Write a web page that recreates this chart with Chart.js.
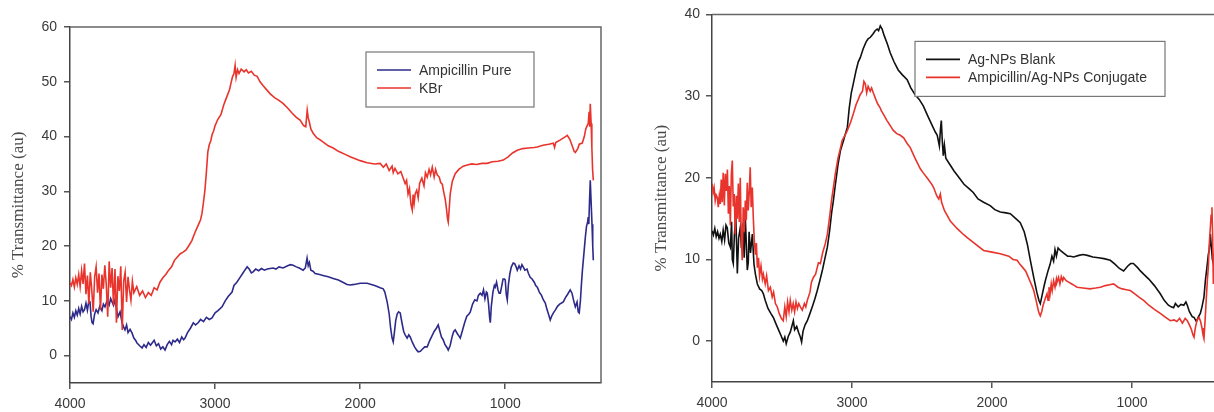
<!DOCTYPE html>
<html>
<head>
<meta charset="utf-8">
<script src="https://cdn.jsdelivr.net/npm/chart.js@4.4.1/dist/chart.umd.min.js"></script>
<style>
html, body { margin: 0; padding: 0; background: #fff; overflow: hidden; width: 1214px; height: 412px; }
.panel { position: absolute; top: 0; }
</style>
</head>
<body>
<div class="panel" style="left:0"><canvas id="leftChart" width="612" height="412"></canvas></div>
<div class="panel" style="left:620px"><canvas id="rightChart" width="620" height="412"></canvas></div>
<script>
// FTIR spectra, [wavenumber cm-1, % transmittance]

const ampicillinPure = [
  [4000,7.1],[3990,6.6],[3980,7.8],[3970,7.0],[3960,8.2],[3950,7.4],[3940,8.6],[3930,7.6],[3920,9.0],[3910,8.0],
  [3900,8.4],[3890,9.6],[3880,8.3],[3870,10.0],[3862,9.8],[3855,7.2],[3848,6.0],[3841,5.8],[3830,7.6],[3820,8.4],
  [3807,7.8],[3795,9.0],[3780,8.2],[3770,9.4],[3759,8.9],[3745,10.0],[3730,9.2],[3720,10.4],[3710,9.8],[3700,9.2],
  [3690,10.2],[3680,8.6],[3669,7.1],[3655,8.0],[3641,6.0],[3630,5.2],[3621,4.7],[3610,5.6],[3600,4.2],[3586,4.8],
  [3572,4.1],[3560,3.2],[3548,2.8],[3538,2.3],[3520,1.8],[3503,1.4],[3490,2.0],[3475,1.5],[3460,2.4],[3445,1.9],
  [3434,2.3],[3420,2.8],[3405,1.8],[3390,2.2],[3375,1.2],[3360,1.6],[3345,1.0],[3330,2.0],[3315,2.6],[3300,2.0],
  [3290,2.8],[3276,2.5],[3260,3.0],[3245,2.4],[3230,3.4],[3217,2.9],[3207,3.2],[3190,4.2],[3170,5.0],[3150,6.0],
  [3135,5.6],[3117,6.0],[3100,6.6],[3080,6.2],[3060,7.0],[3040,6.6],[3021,6.9],[3000,7.8],[2980,8.2],[2952,8.9],
  [2930,10.0],[2910,10.8],[2883,11.6],[2870,12.8],[2850,13.4],[2830,14.2],[2810,15.0],[2795,15.6],[2779,16.2],[2765,15.8],
  [2750,15.1],[2738,15.3],[2720,15.8],[2700,15.5],[2680,15.9],[2660,15.6],[2640,15.8],[2620,15.9],[2600,16.0],[2580,15.8],
  [2560,16.2],[2531,16.0],[2500,16.4],[2480,16.6],[2462,16.5],[2440,16.2],[2420,16.0],[2393,15.6],[2378,16.0],[2366,17.8],
  [2358,16.4],[2350,17.0],[2340,15.6],[2325,15.4],[2310,15.0],[2280,14.8],[2250,14.6],[2220,14.4],[2186,14.1],[2150,13.8],
  [2120,13.4],[2090,13.0],[2069,12.9],[2040,13.0],[2000,13.2],[1952,13.2],[1900,12.8],[1862,12.4],[1841,12.2],[1830,11.6],
  [1814,9.8],[1800,7.6],[1790,5.0],[1780,3.2],[1772,2.5],[1765,4.0],[1755,6.4],[1745,7.6],[1735,8.0],[1724,7.8],
  [1712,6.0],[1700,4.4],[1690,3.8],[1676,3.2],[1665,3.8],[1655,3.4],[1640,2.4],[1625,1.6],[1610,1.0],[1600,0.7],
  [1585,0.8],[1570,1.2],[1555,1.6],[1538,1.6],[1520,2.8],[1505,3.6],[1490,4.4],[1475,5.0],[1462,5.6],[1450,4.4],
  [1440,3.4],[1428,2.9],[1415,2.0],[1400,1.4],[1393,1.0],[1380,1.8],[1365,3.6],[1355,4.4],[1345,4.7],[1330,4.0],
  [1320,3.6],[1310,3.2],[1295,4.6],[1280,6.0],[1265,7.2],[1250,7.6],[1241,8.0],[1225,9.4],[1210,10.2],[1195,10.0],
  [1185,11.0],[1172,11.4],[1160,11.0],[1150,12.0],[1140,10.4],[1130,11.6],[1124,11.4],[1115,9.4],[1108,7.0],[1103,6.0],
  [1096,9.0],[1085,11.6],[1075,12.8],[1069,12.5],[1060,13.4],[1050,12.0],[1042,11.4],[1034,11.4],[1025,12.6],[1015,14.0],
  [1005,14.0],[1000,13.8],[993,11.2],[986,10.2],[978,13.0],[968,15.0],[958,16.2],[945,16.9],[935,16.8],[925,16.2],
  [917,15.6],[905,16.4],[895,15.8],[885,16.6],[876,16.2],[865,15.6],[850,15.8],[840,15.0],[828,14.3],[815,14.0],
  [800,13.4],[790,12.8],[779,12.5],[765,11.6],[750,11.0],[738,10.2],[724,9.6],[712,8.4],[700,7.4],[690,6.5],
  [680,7.2],[668,7.8],[655,8.3],[640,9.0],[625,9.4],[612,9.6],[600,9.8],[585,10.6],[570,11.2],[552,12.0],
  [540,11.4],[528,10.0],[517,8.9],[505,9.8],[497,8.0],[490,7.8],[482,10.0],[475,13.0],[468,15.6],[462,17.4],
  [455,19.5],[448,21.6],[440,23.6],[432,24.4],[428,25.3],[424,24.0],[420,27.5],[414,32.0],[408,28.0],[402,24.0],
  [397,20.0],[393,17.4]
];

const kbr = [
  [4000,13.3],[3990,12.8],[3980,13.9],[3970,12.5],[3960,14.2],[3950,13.0],[3940,14.8],[3930,12.6],[3920,15.5],[3910,13.1],
  [3900,16.8],[3890,11.2],[3880,14.6],[3870,9.5],[3860,15.2],[3850,12.0],[3840,8.0],[3830,14.4],[3820,16.2],[3810,11.5],
  [3800,15.0],[3790,8.3],[3780,14.8],[3770,12.2],[3760,16.5],[3750,13.0],[3740,7.1],[3730,17.2],[3720,12.4],[3710,16.0],
  [3700,9.2],[3690,15.8],[3680,6.0],[3670,14.5],[3660,11.8],[3650,16.3],[3640,4.7],[3630,13.6],[3620,15.2],[3610,9.8],
  [3600,14.4],[3590,12.0],[3580,10.1],[3570,13.6],[3560,11.5],[3540,12.6],[3520,11.0],[3500,11.8],[3480,10.6],[3460,11.5],
  [3440,11.0],[3420,12.4],[3400,12.0],[3380,13.4],[3360,14.2],[3340,14.8],[3320,15.6],[3300,16.2],[3280,17.4],[3260,18.0],
  [3240,18.6],[3220,18.9],[3200,19.3],[3180,20.1],[3160,21.0],[3140,22.4],[3120,23.6],[3100,24.8],[3090,26.0],[3080,28.0],
  [3070,30.2],[3060,33.5],[3050,37.2],[3040,38.5],[3030,39.2],[3020,40.4],[3010,41.0],[3000,42.0],[2980,43.2],[2960,44.0],
  [2940,45.8],[2920,47.2],[2900,48.6],[2890,49.8],[2880,50.9],[2870,51.5],[2862,53.0],[2855,50.8],[2845,52.2],[2835,51.5],
  [2820,52.3],[2800,51.8],[2785,52.2],[2770,51.6],[2750,51.9],[2730,51.2],[2710,51.0],[2690,50.0],[2670,49.3],[2650,48.7],
  [2620,47.8],[2590,47.1],[2560,46.6],[2530,46.0],[2500,45.2],[2470,44.3],[2440,43.5],[2414,43.0],[2390,42.0],[2375,41.8],
  [2365,44.8],[2358,43.4],[2350,42.6],[2340,41.4],[2324,40.6],[2300,39.8],[2276,39.4],[2250,38.9],[2220,38.3],[2186,37.9],
  [2150,37.3],[2100,36.7],[2069,36.3],[2030,35.9],[2000,35.6],[1952,35.2],[1900,35.0],[1862,35.1],[1840,34.4],[1820,35.0],
  [1800,33.8],[1780,34.6],[1772,33.4],[1760,34.2],[1740,33.2],[1720,33.6],[1703,32.4],[1690,31.4],[1680,32.0],[1670,29.5],
  [1660,30.5],[1650,27.6],[1641,26.6],[1635,29.4],[1628,27.8],[1621,29.5],[1610,30.2],[1600,28.8],[1590,31.5],[1575,32.4],
  [1560,31.0],[1550,33.4],[1538,32.6],[1525,34.0],[1515,33.0],[1503,34.4],[1490,32.6],[1480,34.0],[1469,33.0],[1455,32.6],
  [1445,31.6],[1434,31.3],[1425,30.0],[1414,28.6],[1405,26.8],[1398,25.0],[1393,24.4],[1387,26.5],[1379,29.6],[1365,31.8],
  [1345,33.2],[1320,34.0],[1290,34.6],[1262,34.8],[1230,35.0],[1200,34.9],[1160,35.1],[1124,35.1],[1090,35.4],[1050,35.5],
  [1014,35.7],[980,36.3],[950,37.0],[917,37.5],[880,37.8],[840,37.9],[800,38.0],[779,38.1],[740,38.4],[700,38.6],
  [669,38.8],[660,38.0],[652,38.9],[620,39.4],[590,39.9],[572,40.2],[555,39.5],[540,38.4],[525,37.3],[517,37.1],
  [500,37.8],[490,38.6],[469,38.8],[455,40.0],[445,41.4],[435,42.0],[428,42.4],[422,44.5],[418,41.8],[414,46.0],
  [408,42.4],[403,38.0],[398,34.0],[393,32.0]
];

const agNpsBlank = [
  [4000,13.5],[3990,13.0],[3980,13.8],[3970,12.8],[3960,13.4],[3950,12.6],[3941,13.1],[3930,12.2],[3920,13.6],[3910,12.4],
  [3900,14.2],[3891,13.9],[3880,12.0],[3869,11.5],[3860,14.6],[3855,10.0],[3848,9.5],[3840,13.0],[3830,15.4],[3819,8.3],
  [3810,12.6],[3798,13.9],[3790,11.4],[3780,14.4],[3770,10.2],[3762,15.1],[3755,12.0],[3748,8.7],[3741,9.6],[3735,13.4],
  [3725,10.8],[3712,13.1],[3700,9.4],[3690,8.2],[3676,7.0],[3660,6.4],[3645,6.2],[3633,5.8],[3620,5.0],[3600,4.0],
  [3580,3.4],[3562,2.9],[3540,2.0],[3520,1.2],[3505,0.6],[3491,0.0],[3480,0.5],[3470,-0.3],[3455,0.6],[3441,1.1],
  [3430,1.8],[3419,2.5],[3410,1.4],[3395,1.8],[3380,1.0],[3369,0.5],[3360,-0.1],[3350,1.2],[3335,2.0],[3319,2.5],
  [3300,3.4],[3280,4.4],[3265,5.2],[3248,6.2],[3230,7.4],[3210,8.8],[3190,10.4],[3176,11.5],[3160,13.5],[3145,15.8],
  [3133,17.2],[3120,19.0],[3100,21.6],[3083,23.3],[3060,24.6],[3040,25.8],[3033,26.2],[3020,28.5],[3005,30.4],[2991,31.5],
  [2970,33.2],[2955,34.2],[2941,34.7],[2920,35.8],[2900,36.6],[2885,37.0],[2869,37.2],[2850,37.6],[2835,38.0],[2820,38.2],
  [2810,38.0],[2798,38.6],[2785,38.2],[2770,37.4],[2748,36.4],[2727,35.3],[2700,34.2],[2670,33.2],[2640,32.6],[2606,32.0],
  [2580,31.0],[2550,30.2],[2520,29.6],[2491,28.8],[2460,27.6],[2430,26.5],[2405,25.6],[2391,25.2],[2376,23.9],[2368,26.0],
  [2362,27.0],[2355,24.5],[2348,22.7],[2340,24.0],[2330,22.4],[2300,21.6],[2270,20.8],[2248,20.3],[2200,19.2],[2160,18.6],
  [2134,18.2],[2100,17.4],[2060,17.0],[2013,16.6],[1980,16.1],[1941,15.8],[1900,15.7],[1869,15.6],[1830,15.0],[1798,14.5],
  [1770,13.4],[1748,11.9],[1725,9.8],[1702,7.8],[1680,6.0],[1665,5.0],[1655,4.6],[1645,5.4],[1630,6.6],[1619,7.4],
  [1600,8.6],[1585,9.4],[1572,10.4],[1560,9.8],[1550,11.2],[1540,10.4],[1528,11.4],[1512,11.1],[1490,10.8],[1460,10.4],
  [1440,10.4],[1417,10.3],[1380,10.5],[1350,10.6],[1319,10.5],[1280,10.3],[1240,10.2],[1200,10.1],[1155,9.9],[1120,9.4],
  [1090,8.9],[1060,8.6],[1030,9.2],[1010,9.5],[990,9.5],[960,9.0],[940,8.6],[917,8.2],[880,7.6],[840,6.8],
  [798,5.8],[770,5.0],[740,4.4],[720,4.2],[703,4.1],[690,4.6],[670,4.2],[650,4.5],[630,4.4],[615,4.8],
  [605,4.4],[590,3.6],[570,3.0],[557,2.9],[540,2.4],[525,3.0],[512,3.4],[500,4.2],[486,5.4],[476,7.4],
  [465,9.0],[455,10.6],[448,11.2],[440,13.1],[433,11.5],[426,10.0],[419,9.5],[410,10.5],[400,12.0]
];

const conjugate = [
  [4000,19.3],[3992,18.2],[3985,18.8],[3977,17.2],[3970,17.9],[3962,17.6],[3955,16.4],[3948,17.8],[3941,16.8],[3934,19.8],
  [3927,17.0],[3920,20.6],[3912,16.6],[3905,20.5],[3898,18.4],[3890,21.0],[3883,15.6],[3876,19.0],[3869,14.2],[3862,20.4],
  [3855,22.1],[3848,16.5],[3841,18.0],[3834,13.1],[3826,17.8],[3819,15.0],[3812,19.3],[3805,14.6],[3798,20.0],[3791,12.6],
  [3784,9.9],[3777,16.4],[3770,13.4],[3762,17.2],[3755,14.8],[3748,19.4],[3741,16.0],[3734,18.2],[3727,21.3],[3720,16.4],
  [3712,18.8],[3705,15.1],[3698,12.4],[3690,10.6],[3683,12.0],[3676,9.0],[3668,10.2],[3660,8.0],[3650,9.2],[3640,7.6],
  [3633,8.2],[3620,7.0],[3610,8.0],[3597,6.2],[3583,6.6],[3570,5.4],[3560,6.0],[3547,4.6],[3534,4.2],[3520,3.4],
  [3505,2.8],[3491,2.5],[3480,4.2],[3470,3.0],[3460,4.8],[3450,3.6],[3441,5.0],[3430,3.8],[3420,4.6],[3410,3.6],
  [3400,4.8],[3390,4.0],[3380,4.6],[3369,4.2],[3355,3.8],[3340,4.6],[3330,4.2],[3319,5.0],[3300,6.0],[3290,7.2],
  [3276,7.8],[3260,8.2],[3240,9.6],[3226,9.5],[3210,10.8],[3190,12.0],[3176,13.1],[3160,15.2],[3145,17.4],[3133,18.8],
  [3120,20.4],[3100,22.4],[3083,23.6],[3070,24.6],[3050,25.2],[3033,25.8],[3010,26.8],[2991,27.8],[2970,29.0],[2955,29.6],
  [2941,30.2],[2925,30.6],[2915,31.8],[2905,31.5],[2895,30.4],[2885,31.2],[2870,30.6],[2860,31.0],[2848,30.4],[2830,29.6],
  [2815,29.0],[2800,28.6],[2790,28.2],[2776,27.8],[2750,27.0],[2720,26.2],[2705,25.8],[2680,25.4],[2655,25.2],[2631,24.9],
  [2606,24.2],[2584,23.7],[2550,22.4],[2512,21.1],[2491,20.6],[2460,19.9],[2430,19.2],[2417,18.8],[2395,17.8],[2380,17.4],
  [2369,18.0],[2360,17.0],[2340,16.0],[2320,15.4],[2298,14.7],[2250,13.8],[2200,13.0],[2179,12.7],[2120,11.9],[2060,11.1],
  [2000,10.9],[1941,10.7],[1880,10.4],[1850,10.0],[1821,9.9],[1800,9.4],[1780,9.0],[1760,8.6],[1750,8.2],[1730,7.4],
  [1715,6.8],[1702,6.2],[1685,5.0],[1670,3.8],[1663,3.4],[1655,3.1],[1645,3.6],[1635,4.4],[1620,5.2],[1607,5.8],
  [1600,5.0],[1593,6.6],[1585,5.8],[1577,7.0],[1570,6.2],[1560,7.4],[1550,6.6],[1540,7.6],[1536,7.2],[1525,7.8],
  [1515,7.0],[1505,7.9],[1495,7.4],[1488,7.8],[1470,7.4],[1450,7.2],[1430,7.0],[1410,6.8],[1393,6.6],[1350,6.5],
  [1300,6.4],[1260,6.5],[1226,6.6],[1190,6.8],[1160,6.9],[1131,7.0],[1100,6.6],[1070,6.4],[1040,6.3],[1012,6.2],
  [980,5.8],[950,5.4],[917,5.0],[880,4.4],[840,3.9],[798,3.4],[760,2.9],[726,2.5],[700,2.6],[680,2.4],
  [660,2.8],[640,2.2],[620,2.8],[605,2.5],[590,2.0],[575,1.4],[565,0.8],[557,0.5],[548,1.6],[535,2.6],
  [521,2.9],[510,2.4],[500,1.6],[493,0.8],[486,0.3],[478,2.5],[470,5.0],[462,7.4],[455,9.0],[446,12.5],
  [440,14.0],[435,15.4],[429,16.4],[424,12.8],[419,7.0],[412,10.0],[405,13.0]
];

const xTicks = [4000, 3000, 2000, 1000];
const yTicksLeft = [0, 10, 20, 30, 40, 50, 60];
const yTicksRight = [0, 10, 20, 30, 40];

const sans = '"Liberation Sans", Arial, sans-serif';

function toPoints(pairs) {
    return pairs.map(([x, y]) => ({ x: x, y: y }));
}

// box legend like the original plots, placed inside the plot area
const boxLegend = {
    id: "boxLegend",
    afterDatasetsDraw(chart, args, opts) {
        const { ctx, chartArea } = chart;
        const x = chartArea.left + opts.dx;
        const y = chartArea.top + opts.dy;
        ctx.save();
        ctx.fillStyle = "#fff";
        ctx.fillRect(x, y, opts.width, opts.height);
        ctx.strokeStyle = "#777";
        ctx.lineWidth = 1.2;
        ctx.strokeRect(x, y, opts.width, opts.height);
        ctx.font = "14px " + sans;
        ctx.textBaseline = "middle";
        chart.data.datasets.forEach((ds, i) => {
            const ly = y + 18 + i * 18;
            ctx.strokeStyle = ds.borderColor;
            ctx.lineWidth = 1.6;
            ctx.beginPath();
            ctx.moveTo(x + 11, ly);
            ctx.lineTo(x + 45, ly);
            ctx.stroke();
            ctx.fillStyle = "#333";
            ctx.fillText(ds.label, x + 53, ly + 1);
        });
        ctx.restore();
    }
};

// top and right sides of the frame
const frame = {
    id: "frame",
    beforeDatasetsDraw(chart) {
        const { ctx, chartArea } = chart;
        ctx.save();
        ctx.strokeStyle = "#666";
        ctx.lineWidth = 1.5;
        ctx.beginPath();
        ctx.moveTo(chartArea.left, chartArea.top);
        ctx.lineTo(chartArea.right, chartArea.top);
        ctx.lineTo(chartArea.right, chartArea.bottom);
        ctx.stroke();
        ctx.restore();
    }
};

function CreateSpectrumChart(canvasID, datasets, cfg) {
    return new Chart(document.getElementById(canvasID), {
        type: "line",
        data: { datasets: datasets },
        options: {
            responsive: false,
            animation: false,
            layout: { padding: { top: cfg.top, right: cfg.right, left: 0, bottom: 0 } },
            elements: {
                point: { radius: 0 },
                line: { borderWidth: 1.6, tension: 0 }
            },
            plugins: {
                legend: { display: false },
                tooltip: { enabled: false },
                boxLegend: cfg.legend
            },
            scales: {
                x: {
                    type: "linear",
                    reverse: true,
                    min: cfg.xMin,
                    max: 4000,
                    afterBuildTicks: (s) => { s.ticks = xTicks.map(v => ({ value: v })); },
                    afterFit: (s) => { s.height = cfg.xHeight; },
                    grid: { drawOnChartArea: false, drawTicks: true, tickLength: 6, color: "#555", lineWidth: 1.5 },
                    border: { display: true, color: "#444", width: 1.5 },
                    ticks: {
                        color: "#3a3a3a", font: { family: sans, size: 14 }, padding: 7, maxRotation: 0,
                        callback: (v) => String(v)
                    }
                },
                y: {
                    min: -5,
                    max: cfg.yMax,
                    afterBuildTicks: (s) => { s.ticks = cfg.yTicks.map(v => ({ value: v })); },
                    afterFit: (s) => { s.width = cfg.yWidth; },
                    grid: { drawOnChartArea: false, drawTicks: true, tickLength: 6, color: "#555", lineWidth: 1.5 },
                    border: { display: true, color: "#444", width: 1.5 },
                    ticks: {
                        color: "#3a3a3a", font: { family: sans, size: 14 }, padding: cfg.tickPad,
                        callback: (v) => String(v)
                    },
                    title: {
                        display: true,
                        text: "% Transmittance (au)",
                        color: "#4a4a4a",
                        font: { family: '"Liberation Serif", "Times New Roman", serif', size: 17 },
                        padding: { top: cfg.titlePad, bottom: 0 }
                    }
                }
            }
        },
        plugins: [frame, boxLegend]
    });
}

CreateSpectrumChart("leftChart", [
    { label: "Ampicillin Pure", data: toPoints(ampicillinPure), borderColor: "#2d2a8a", order: 1 },
    { label: "KBr", data: toPoints(kbr), borderColor: "#e8342c", order: 0 }
], {
    top: 27, right: 11, xHeight: 29, yWidth: 70, xMin: 340, yMax: 60,
    yTicks: yTicksLeft, tickPad: 7, titlePad: 8,
    legend: { dx: 296, dy: 25, width: 168, height: 55 }
});

CreateSpectrumChart("rightChart", [
    { label: "Ag-NPs Blank", data: toPoints(agNpsBlank), borderColor: "#111111", order: 1 },
    { label: "Ampicillin/Ag-NPs Conjugate", data: toPoints(conjugate), borderColor: "#e8342c", order: 0 }
], {
    top: 14, right: 17, xHeight: 30, yWidth: 92, xMin: 350, yMax: 40,
    yTicks: yTicksRight, tickPad: 6, titlePad: 31,
    legend: { dx: 203, dy: 27, width: 250, height: 55 }
});
</script>
</body>
</html>
